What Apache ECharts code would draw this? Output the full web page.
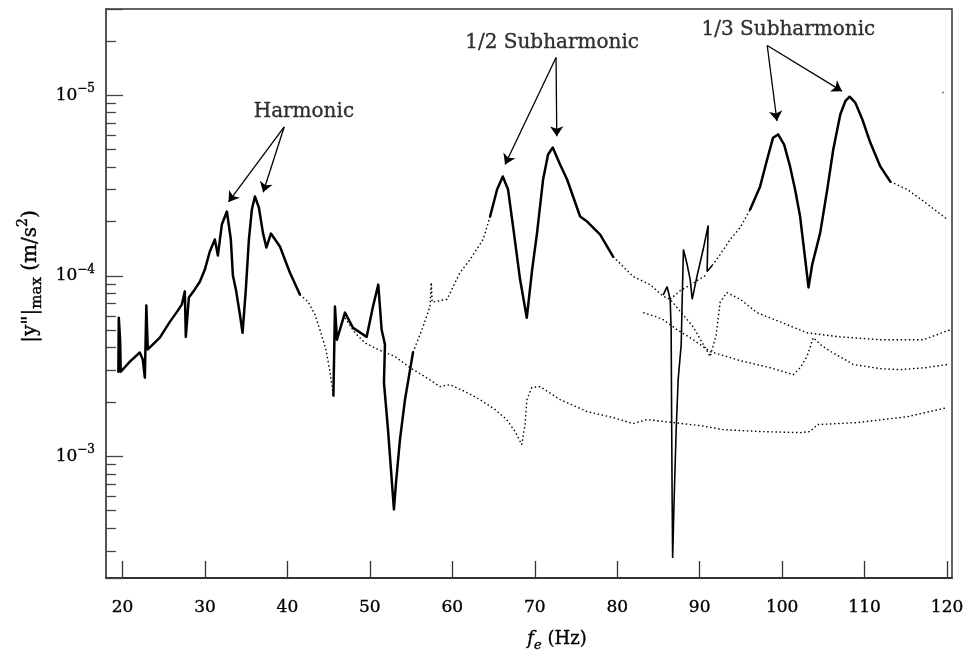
<!DOCTYPE html>
<html><head><meta charset="utf-8">
<script src="https://cdn.jsdelivr.net/npm/echarts@6/dist/echarts.min.js"></script>
<style>html,body{margin:0;padding:0;background:#fff}#c{width:963px;height:650px}</style>
</head><body><div id="c"></div>
<script>
// x tick labels (Hz)
const xTicks = [20, 30, 40, 50, 60, 70, 80, 90, 100, 110, 120];
// [f_e (Hz), |y''|max as read on the axis labels]
const harmonicSolid = [[19.50,3.40e-4],[19.55,1.71e-4],[19.71,2.26e-4],[19.79,3.40e-4],[20.89,2.99e-4],[22.10,2.66e-4],[22.46,2.91e-4],[22.71,3.67e-4],[22.89,1.46e-4],[23.07,2.56e-4],[24.53,2.20e-4],[25.74,1.80e-4],[26.71,1.56e-4],[27.20,1.44e-4],[27.56,1.22e-4],[27.68,2.18e-4],[28.05,1.32e-4],[28.77,1.19e-4],[29.38,1.08e-4],[29.99,9.24e-5],[30.59,7.34e-5],[31.20,6.30e-5],[31.57,7.73e-5],[32.05,5.20e-5],[32.66,4.41e-5],[33.14,6.30e-5],[33.39,9.98e-5],[33.75,1.19e-4],[34.24,1.64e-4],[34.56,2.07e-4],[34.96,1.19e-4],[35.33,6.30e-5],[35.69,4.30e-5],[36.06,3.64e-5],[36.54,4.19e-5],[37.03,5.77e-5],[37.45,6.98e-5],[38.00,5.84e-5],[39.09,6.89e-5],[40.30,9.60e-5],[41.51,1.27e-4]];
const harmonicDotted = [[41.51,1.27e-4],[42.49,1.39e-4],[43.34,1.64e-4],[43.94,1.99e-4],[44.67,2.56e-4],[45.16,3.40e-4],[45.58,4.61e-4]];
const dipSolid = [[45.58,4.61e-4],[45.77,1.48e-4],[46.01,2.26e-4],[46.98,1.60e-4],[47.95,1.94e-4],[49.61,2.18e-4],[50.38,1.48e-4],[51.02,1.12e-4],[51.43,1.99e-4],[51.83,2.40e-4],[51.71,3.91e-4],[52.20,7.11e-4],[52.92,1.97e-3],[53.17,1.40e-3],[53.65,8.08e-4],[54.26,4.85e-4],[55.23,2.66e-4]];
const sub2Rise = [[55.23,2.66e-4],[56.44,1.92e-4],[57.30,1.48e-4],[57.45,1.09e-4],[57.55,1.40e-4],[59.36,1.35e-4],[60.93,9.60e-5],[62.15,8.13e-5],[63.73,6.30e-5],[64.58,4.70e-5]];
const sub2Peaks = [[64.58,4.70e-5],[65.43,3.33e-5],[66.12,2.82e-5],[66.76,3.33e-5],[67.37,5.34e-5],[68.22,1.05e-4],[69.03,1.71e-4],[69.68,9.24e-5],[70.28,5.77e-5],[71.01,2.93e-5],[71.61,2.13e-5],[72.18,1.95e-5],[73.07,2.42e-5],[73.92,2.93e-5],[75.50,4.70e-5],[76.35,5.01e-5],[77.93,5.92e-5],[79.50,7.83e-5]];
const sub2Tail = [[79.50,7.83e-5],[81.93,1.01e-4],[83.99,1.12e-4],[85.57,1.30e-4],[86.42,1.35e-4],[89.21,1.92e-4],[91.27,2.80e-4],[92.00,2.12e-4],[92.48,1.40e-4],[93.30,1.24e-4],[94.91,1.35e-4],[96.94,1.60e-4],[99.76,1.80e-4],[103.01,2.07e-4],[107.05,2.18e-4],[111.90,2.26e-4],[117.13,2.26e-4],[120.40,1.99e-4]];
const connector = [[86.42,1.35e-4],[87.63,1.21e-4],[89.21,1.10e-4],[90.67,9.98e-5]];
const lowerBranch = [[46.98,1.71e-4],[48.19,2.07e-4],[49.40,2.35e-4],[50.98,2.56e-4],[53.05,2.80e-4],[54.87,3.23e-4],[56.69,3.62e-4],[58.51,4.11e-4],[59.73,4.01e-4],[61.54,4.38e-4],[63.37,4.85e-4],[65.19,5.51e-4],[66.60,6.26e-4],[67.61,7.29e-4],[68.42,8.61e-4],[68.82,6.67e-4],[69.05,4.85e-4],[69.64,4.16e-4],[70.65,4.11e-4],[73.07,4.85e-4],[76.35,5.65e-4],[79.50,6.10e-4],[81.93,6.59e-4],[83.59,6.26e-4],[86.79,6.50e-4],[90.07,6.76e-4],[92.86,7.11e-4],[97.35,7.29e-4],[102.2,7.39e-4],[103.4,7.29e-4],[104.27,6.67e-4],[109.13,6.50e-4],[115.2,6.03e-4],[120.04,5.37e-4]];
const branchD = [[83.15,1.60e-4],[84.60,1.68e-4],[85.57,1.75e-4],[87.27,1.99e-4],[89.21,2.26e-4],[91.27,2.63e-4],[94.91,2.95e-4],[98.56,3.23e-4],[101.35,3.53e-4],[102.2,3.23e-4],[103.01,2.80e-4],[103.78,2.20e-4],[104.62,2.40e-4],[105.47,2.56e-4],[108.63,3.10e-4],[111.9,3.27e-4],[114.33,3.31e-4],[117.36,3.23e-4],[120.04,3.10e-4]];
const sub3Jagged = [[85.57,1.28e-4],[86.05,1.15e-4],[86.42,1.35e-4],[86.54,1.99e-4],[86.60,6.26e-4],[86.66,1.74e-3],[86.72,3.65e-3],[86.90,1.74e-3],[87.15,7.11e-4],[87.39,3.76e-4],[87.76,2.40e-4],[87.88,1.35e-4],[88.03,7.16e-5],[88.48,8.67e-5],[88.85,1.05e-4],[89.09,1.35e-4],[89.69,9.98e-5],[90.42,7.16e-5],[91.03,5.27e-5],[90.90,9.48e-5],[91.51,8.78e-5]];
const sub3Rise = [[91.51,8.78e-5],[92.48,7.63e-5],[93.70,6.30e-5],[94.91,5.41e-5],[96.12,4.30e-5]];
const sub3Peaks = [[96.12,4.30e-5],[97.33,3.20e-5],[98.18,2.27e-5],[98.90,1.72e-5],[99.51,1.65e-5],[100.24,1.88e-5],[100.96,2.48e-5],[101.57,3.33e-5],[102.18,4.70e-5],[102.80,8.13e-5],[103.20,1.16e-4],[103.65,8.67e-5],[104.62,5.77e-5],[105.47,3.33e-5],[106.20,2.00e-5],[107.05,1.28e-5],[107.66,1.08e-5],[108.18,1.02e-5],[108.87,1.10e-5],[109.72,1.36e-5],[110.69,1.83e-5],[111.90,2.48e-5],[113.12,3.01e-5]];
const sub3Tail = [[113.12,3.01e-5],[115.18,3.33e-5],[117.36,3.93e-5],[120.04,4.88e-5]];
const strayPoint = [[119.5,9.66e-6]];
// annotations
const annotationLabels = ['Harmonic', '1/2 Subharmonic', '1/3 Subharmonic'];
const annotationPos = [[42.0,1.23e-5],[72.10,5.11e-6],[100.76,4.33e-6]];
const arrowStarts = [[39.61,1.50e-5],[39.61,1.50e-5],[72.58,6.18e-6],[72.58,6.18e-6],[98.19,5.31e-6],[98.19,5.31e-6]];
const arrowEnds = [[32.86,3.90e-5],[37.06,3.45e-5],[66.40,2.42e-5],[72.67,1.69e-5],[99.37,1.39e-5],[107.26,9.50e-6]];

// the axis reads 10^-5 at the top: plot the reciprocal on a log axis
const toAxis = arr => arr.map(p => [p[0], 1 / p[1]]);
const FONT = 'DejaVu Serif';
const INK = '#000';
const BOLDEN = {textBorderColor:'#000', textBorderWidth:0.35};

function solid(data) {
  return {type:'line', data: toAxis(data), showSymbol:false, silent:true, z:3,
    lineStyle:{color:'#000', width:2.5, cap:'round', join:'round'}};
}
function dotted(data) {
  return {type:'line', data: toAxis(data), showSymbol:false, silent:true, z:2,
    lineStyle:{color:'#000', width:1.4, type:[1.5, 2.6]}};
}
const txt = (o) => Object.assign({fontFamily:FONT, color:INK}, BOLDEN, o);

const chart = echarts.init(document.getElementById('c'));
chart.setOption({
  animation:false,
  backgroundColor:'#fff',
  grid:{left:106, right:11, top:9, bottom:72, outerBoundsMode:'none', containLabel:false,
        show:true, borderColor:'#333', borderWidth:1.5},
  xAxis:{
    type:'value', min:18, max:120.6,
    axisLine:{lineStyle:{color:'#222', width:1.5}},
    axisTick:{inside:true, length:17, customValues:xTicks, lineStyle:{color:'#333', width:1.3}},
    axisLabel:Object.assign({customValues:xTicks, margin:21, fontSize:17}, txt({})),
    splitLine:{show:false},
    name:'{i|f}{sub|e}{b| (Hz)}', nameLocation:'middle', nameGap:48,
    nameTextStyle:{padding:[0,0,0,56], rich:{
      i:txt({fontStyle:'italic', fontSize:18, lineHeight:26}),
      sub:txt({fontStyle:'italic', fontSize:13, lineHeight:13, verticalAlign:'bottom'}),
      b:txt({fontSize:18, lineHeight:26})}}
  },
  yAxis:{
    type:'log', logBase:10, min:212, max:3.0e5,
    axisLine:{lineStyle:{color:'#555', width:2}},
    axisTick:{inside:true, length:17, lineStyle:{color:'#444', width:1.3}},
    minorTick:{show:true, splitNumber:9, length:10, lineStyle:{color:'#444', width:1.3}},
    splitLine:{show:false}, minorSplitLine:{show:false},
    axisLabel:{margin:11, formatter: v => {
        const e = Math.log10(v), r = Math.round(e);
        if (Math.abs(e - r) > 1e-6) return '';
        return '{b|10}{s|\u2212' + r + '}';
      },
      rich:{b:txt({fontSize:17, lineHeight:24}),
            s:txt({fontSize:12, lineHeight:12, verticalAlign:'top'})}},
    name:'{b||y"|}{sub|max}{b| (m/s}{sup|2}{b|)}', nameLocation:'middle', nameGap:60,
    nameTextStyle:{padding:[0,0,0,34], rich:{
      b:txt({fontSize:20, lineHeight:28}),
      sub:txt({fontSize:15, lineHeight:15, verticalAlign:'bottom'}),
      sup:txt({fontSize:14, lineHeight:14, verticalAlign:'top'})}}
  },
  series:[
    solid(harmonicSolid), dotted(harmonicDotted), solid(dipSolid),
    dotted(sub2Rise), solid(sub2Peaks), dotted(sub2Tail), dotted(connector),
    dotted(lowerBranch), dotted(branchD),
    {type:'line', data: toAxis(sub3Jagged), showSymbol:false, silent:true, z:3,
      lineStyle:{color:'#000', width:1.6}},
    dotted(sub3Rise), solid(sub3Peaks), dotted(sub3Tail),
    {type:'scatter', data: toAxis(strayPoint), symbolSize:2, itemStyle:{color:'#555'}, silent:true},
    {type:'scatter', data: toAxis(annotationPos), symbolSize:0, silent:true, z:5,
      label:Object.assign({show:true, position:'inside', formatter: p => annotationLabels[p.dataIndex],
        fontSize:20}, txt({})),
      markLine:{silent:true, symbol:['none','arrow'], symbolSize:10, animation:false,
        label:{show:false}, lineStyle:{color:'#000', width:1.3, type:'solid'},
        data: arrowStarts.map((s, i) => [{coord:[s[0], 1 / s[1]]}, {coord:[arrowEnds[i][0], 1 / arrowEnds[i][1]]}])}}
  ]
});
</script></body></html>
